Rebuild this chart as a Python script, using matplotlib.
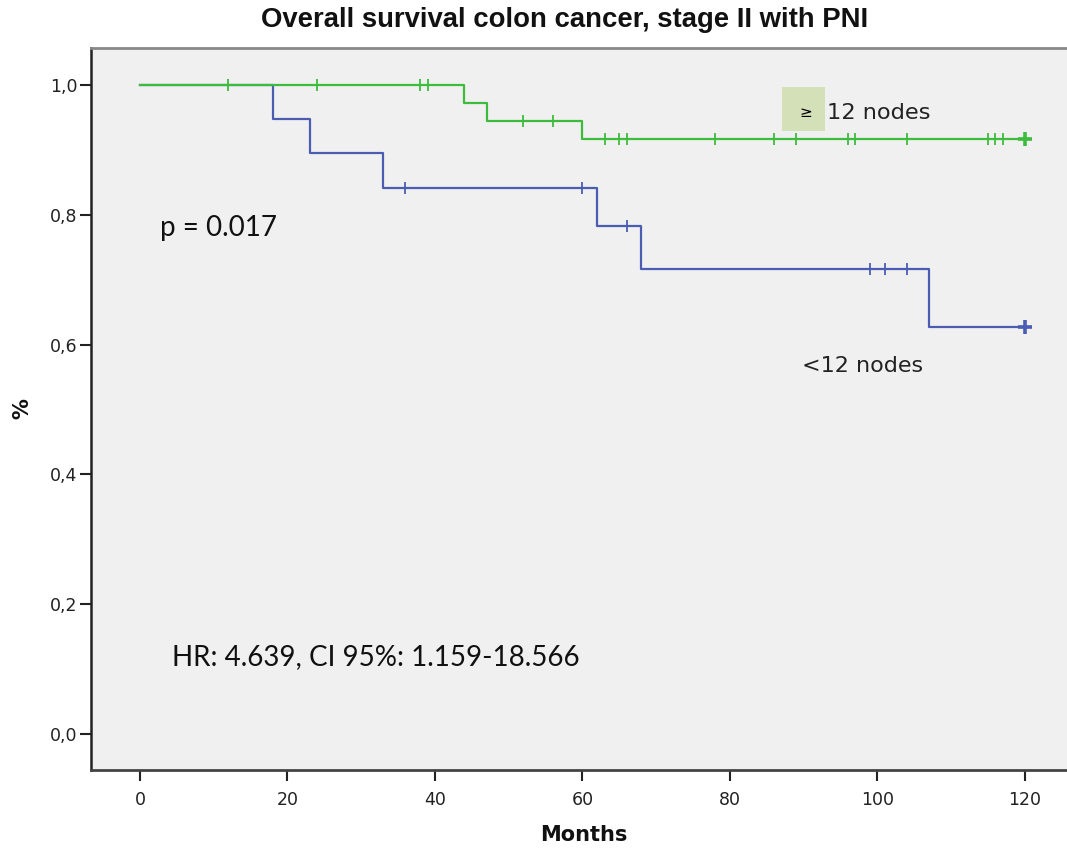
import numpy as np
import matplotlib.pyplot as plt
from matplotlib.patches import Rectangle
from matplotlib.ticker import FuncFormatter

# Kaplan-Meier step data (months, survival)
green_t = [0, 44, 47, 60, 120]
green_s = [1.0, 0.972, 0.945, 0.917, 0.917]
green_cens = [12, 24, 38, 39, 52, 56, 63, 65, 66, 78, 86, 89, 96, 97, 104, 115, 116, 117]

blue_t = [0, 18, 23, 33, 62, 68, 107, 120]
blue_s = [1.0, 0.947, 0.895, 0.842, 0.782, 0.717, 0.627, 0.627]
blue_cens = [36, 60, 66, 99, 101, 104]

x_ticks = [0, 20, 40, 60, 80, 100, 120]
y_ticks = [0.0, 0.2, 0.4, 0.6, 0.8, 1.0]

GREEN = "#3dbb3d"
BLUE = "#4a5db3"
NARROW = ["Liberation Sans Narrow", "DejaVu Sans"]


def surv_at(times, surv, t):
    idx = np.searchsorted(times, t, side="right") - 1
    return surv[idx]


fig = plt.figure(figsize=(10.67, 8.52), dpi=100)
ax = fig.add_axes([0.0853, 0.0962, 0.9147, 0.8475])
ax.set_facecolor("#f0f0f0")

# blue first so the green curve sits on top at 1.0
for t, s, cens, col in [(blue_t, blue_s, blue_cens, BLUE),
                        (green_t, green_s, green_cens, GREEN)]:
    ax.step(t, s, where="post", color=col, linewidth=1.6)
    cy = [surv_at(t, s, c) for c in cens]
    ax.plot(cens, cy, linestyle="none", marker="|", markersize=9,
            markeredgewidth=1.3, color=col)
    ax.plot([t[-1]], [s[-1]], linestyle="none", marker="+", markersize=10,
            markeredgewidth=2.6, color=col)

ax.set_xlim(-6.64, 125.7)
ax.set_ylim(-0.0555, 1.057)
ax.set_xticks(x_ticks)
ax.set_yticks(y_ticks)
ax.yaxis.set_major_formatter(FuncFormatter(lambda v, p: f"{v:.1f}".replace(".", ",")))
ax.tick_params(axis="both", length=8, width=1.5, colors="#222222", labelsize=12.5)
for lab in ax.get_xticklabels() + ax.get_yticklabels():
    lab.set_family(NARROW)
ax.tick_params(axis="x", pad=7)
ax.tick_params(axis="y", pad=2)

ax.spines["right"].set_visible(False)
ax.spines["top"].set_color("#888888")
ax.spines["top"].set_linewidth(2)
ax.spines["left"].set_linewidth(1.8)
ax.spines["bottom"].set_linewidth(2)
ax.spines["left"].set_color("#222222")
ax.spines["bottom"].set_color("#444444")

fig.text(0.529, 0.976, "Overall survival colon cancer, stage II with PNI",
         ha="center", va="center", fontsize=19.8, fontweight="bold",
         family=["Liberation Sans", "DejaVu Sans"], color="#111111")
fig.text(0.547, 0.02, "Months", ha="center", va="center", fontsize=15,
         fontweight="bold", family=NARROW, color="#111111")
fig.text(0.021, 0.521, "%", ha="center", va="center", fontsize=15,
         fontweight="bold", rotation=90, color="#111111")

ax.text(93.1, 0.957, "12 nodes", ha="left", va="center", fontsize=16.2,
        family="DejaVu Sans", color="#222222")
ax.text(89.8, 0.567, "<12 nodes", ha="left", va="center", fontsize=16,
        family="DejaVu Sans", color="#222222")
ax.text(2.7, 0.779, "p = 0.017", ha="left", va="center", fontsize=20,
        family="Lato", color="#111111")
ax.text(4.4, 0.118, "HR: 4.639, CI 95%: 1.159-18.566", ha="left", va="center",
        fontsize=20, family="Lato", color="#111111")

# greenish box covering the "≥" glyph
ax.add_patch(Rectangle((87.0, 0.929), 5.9, 0.068, facecolor="#d4e0b8",
                       edgecolor="none", zorder=3))
ax.text(90.3, 0.958, "≥", ha="center", va="center", fontsize=11,
        color="#000000", zorder=4)

fig.savefig("out.png", dpi=100)
